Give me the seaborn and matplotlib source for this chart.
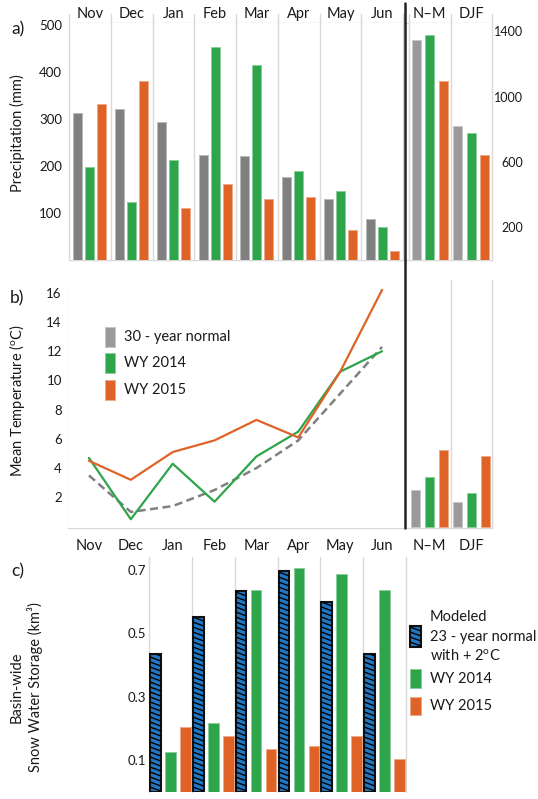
import numpy as np
import pandas as pd
import matplotlib
matplotlib.use("Agg")
import matplotlib.pyplot as plt
import matplotlib.colors as mcolors
from matplotlib.patches import Rectangle
from matplotlib.lines import Line2D
from matplotlib.transforms import IdentityTransform
import seaborn as sns

# ---------------- data ----------------
months = ["Nov", "Dec", "Jan", "Feb", "Mar", "Apr", "May", "Jun"]
seasons = ["N\u2013M", "DJF"]

precip_normal = [313, 321, 294, 223, 221, 177, 130, 87]
precip_2014 = [198, 123, 213, 453, 415, 190, 147, 70]
precip_2015 = [332, 381, 111, 162, 130, 134, 64, 19]
season_precip_normal = [1349, 824]
season_precip_2014 = [1379, 776]
season_precip_2015 = [1095, 641]

temp_normal = [3.5, 1.0, 1.4, 2.5, 4.0, 5.9, 9.1, 12.3]
temp_2014 = [4.7, 0.5, 4.3, 1.7, 4.8, 6.5, 10.6, 12.0]
temp_2015 = [4.5, 3.2, 5.1, 5.9, 7.3, 6.1, 10.6, 16.2]
season_temp_normal = [2.5, 1.7]
season_temp_2014 = [3.4, 2.3]
season_temp_2015 = [5.25, 4.8]

swe_months = ["Jan", "Feb", "Mar", "Apr", "May", "Jun"]
swe_modeled = [0.435, 0.553, 0.635, 0.697, 0.599, 0.435]
swe_2014 = [0.125, 0.216, 0.637, 0.705, 0.686, 0.637]
swe_2015 = [0.205, 0.176, 0.137, 0.145, 0.176, 0.105]

series_names = ["30 - year normal", "WY 2014", "WY 2015"]
swe_names = ["Modeled 23 - year normal with + 2\u00b0C", "WY 2014", "WY 2015"]

# ---------------- style ----------------
GRAY = "#808080"
GRAY_LIGHT = "#9a9a9a"
GREEN = "#2ea44b"
ORANGE = "#df6327"
BLUE = "#2078c4"
RULE = "#d9d9d9"
INK = "#1a1a1a"

sns.set_style("white")
plt.rcParams["font.family"] = ["Lato", "DejaVu Sans"]
plt.rcParams["mathtext.fontset"] = "custom"
plt.rcParams["mathtext.rm"] = "Lato"
plt.rcParams["mathtext.it"] = "Lato:italic"
plt.rcParams["text.color"] = INK

W, H = 538, 799
fig = plt.figure(figsize=(W / 100, H / 100), dpi=100)
fig.patch.set_facecolor("white")


def add_ax(x0, y0, x1, y1):
    return fig.add_axes([x0 / W, 1 - y1 / H, (x1 - x0) / W, (y1 - y0) / H])


def fig_line(x0, y0, x1, y1, color=RULE, lw=1.0, z=0):
    fig.add_artist(Line2D([x0 / W, x1 / W], [1 - y0 / H, 1 - y1 / H],
                          transform=fig.transFigure, color=color, lw=lw, zorder=z))


def tint(c, f=0.45):
    r, g, b = mcolors.to_rgb(c)
    return (r + (1 - r) * f, g + (1 - g) * f, b + (1 - b) * f)


def long_frame(cats, names, *values):
    rows = []
    for name, vals in zip(names, values):
        for c, v in zip(cats, vals):
            rows.append({"cat": c, "series": name, "value": v})
    return pd.DataFrame(rows)


def bars(ax, df, cats, names, colors, width, gap):
    sns.barplot(data=df, x="cat", y="value", hue="series", order=cats,
                hue_order=names, palette=colors, width=width, gap=gap,
                saturation=1, errorbar=None, legend=False, ax=ax)
    for cont, col in zip(ax.containers, colors):
        for p in cont:
            p.set_edgecolor(tint(col))
            p.set_linewidth(0.7)
    ax.set_xlabel("")
    ax.set_ylabel("")
    ax.set_xlim(-0.5, len(cats) - 0.5)


def clean(ax):
    for s in ax.spines.values():
        s.set_visible(False)
    ax.tick_params(length=0, labelsize=9.5, colors=INK)
    ax.grid(False)


def separators(ax, n, ymax=1.0):
    for k in range(n + 1):
        ax.axvline(k - 0.5, ymin=0, ymax=ymax, color=RULE, lw=1.0,
                   clip_on=False, zorder=0)


def stripes(patch, parent, spacing=5.0, drop=4.0, lw=1.0):
    """Shallow diagonal stripes drawn inside a rectangle patch (display units)."""
    bb = patch.get_window_extent()
    x0, x1, y0, y1 = bb.x0, bb.x1, bb.y0, bb.y1
    wdt = x1 - x0
    y = y0 - drop
    while y < y1:
        ya = y + drop
        t_lo = max(0.0, (ya - y1) / drop)
        t_hi = min(1.0, (ya - y0) / drop)
        if t_hi > t_lo:
            ln = Line2D([x0 + t_lo * wdt, x0 + t_hi * wdt],
                        [ya - drop * t_lo, ya - drop * t_hi],
                        transform=IdentityTransform(), color="black", lw=lw,
                        solid_capstyle="butt", zorder=patch.get_zorder() + 0.1)
            parent.add_artist(ln)
        y += spacing


# ---------------- panel a: precipitation ----------------
axA = add_ax(69, 23, 403, 260)
axAs = add_ax(409, 23, 492, 260)

bars(axA, long_frame(months, series_names, precip_normal, precip_2014, precip_2015),
     months, series_names, [GRAY, GREEN, ORANGE], 0.86, 0.25)
axA.set_ylim(0, 504)
axA.set_yticks([100, 200, 300, 400, 500])
clean(axA)
axA.xaxis.tick_top()
axA.tick_params(axis="x", pad=1.5, labelsize=10.5)
axA.tick_params(axis="y", pad=5)
separators(axA, len(months), ymax=1.04)

bars(axAs, long_frame(seasons, series_names, season_precip_normal,
                      season_precip_2014, season_precip_2015),
     seasons, series_names, [GRAY_LIGHT, GREEN, ORANGE], 0.99, 0.34)
axAs.set_ylim(0, 1452)
axAs.set_yticks([200, 600, 1000, 1400])
clean(axAs)
axAs.xaxis.tick_top()
axAs.yaxis.tick_right()
axAs.tick_params(axis="x", pad=1.5, labelsize=10.5)
axAs.tick_params(axis="y", pad=22.5, labelsize=9)
for t in axAs.get_yticklabels():
    t.set_ha("right")
separators(axAs, len(seasons), ymax=1.04)

fig_line(69, 23, 492, 23)
fig_line(69, 260, 492, 260)

# ---------------- panel b: temperature ----------------
axB = add_ax(68, 288, 403, 528)
axBs = add_ax(409, 288, 492, 528)

xpos = np.arange(len(months))
sns.lineplot(x=xpos, y=temp_normal, color=GRAY, lw=1.8,
             linestyle=(0, (3.2, 1.8)), ax=axB)
sns.lineplot(x=xpos, y=temp_2014, color=GREEN, lw=1.6, ax=axB)
sns.lineplot(x=xpos, y=temp_2015, color=ORANGE, lw=1.6, ax=axB)
axB.set_xlim(-0.5, len(months) - 0.5)
axB.set_ylim(-0.1, 16.33)
axB.set_xticks(xpos)
axB.set_xticklabels(months)
axB.set_yticks([2, 4, 6, 8, 10, 12, 14, 16])
clean(axB)
axB.tick_params(axis="x", pad=8, labelsize=10.5)
axB.tick_params(axis="y", pad=4.5)

bars(axBs, long_frame(seasons, series_names, season_temp_normal,
                      season_temp_2014, season_temp_2015),
     seasons, series_names, [GRAY_LIGHT, GREEN, ORANGE], 1.0, 0.35)
axBs.set_ylim(-0.1, 16.33)
axBs.set_yticks([])
clean(axBs)
axBs.tick_params(axis="x", pad=8, labelsize=10.5)
for k in (0.5, 1.5):
    axBs.axvline(k, ymin=0, ymax=1.033, color=RULE, lw=1.0, clip_on=False, zorder=0)

fig_line(68, 288, 68, 528)
fig_line(68, 528, 492, 528)

# legend for panel b
for i, (name, col) in enumerate(zip(series_names, [GRAY_LIGHT, GREEN, ORANGE])):
    yc = 337 + i * 26.3
    fig.add_artist(Rectangle((105 / W, 1 - (yc + 10) / H), 10 / W, 20 / H,
                             transform=fig.transFigure, facecolor=col,
                             edgecolor=tint(col), lw=0.7))
    fig.text(124 / W, 1 - yc / H, name, ha="left", va="center", fontsize=10.5)

# ---------------- panel c: snow water storage ----------------
axC = add_ax(149, 557, 406, 792)
bars(axC, long_frame(swe_months, swe_names, swe_modeled, swe_2014, swe_2015),
     swe_months, swe_names, [BLUE, GREEN, ORANGE], 1.05, 0.28)
axC.set_ylim(0, 0.741)
axC.set_yticks([0.1, 0.3, 0.5, 0.7])
axC.set_xticks([])
clean(axC)
axC.tick_params(axis="y", pad=2)
separators(axC, len(swe_months), ymax=1.0)
for p in axC.containers[0]:
    p.set_edgecolor("#111111")
    p.set_linewidth(1.5)
    p.set_zorder(3)
    stripes(p, axC)

# legend for panel c
leg_patches = [(626, 647, BLUE), (669, 688, GREEN), (697, 715, ORANGE)]
for k, (t, b, col) in enumerate(leg_patches):
    r = Rectangle((410 / W, 1 - b / H), 11 / W, (b - t) / H, transform=fig.transFigure,
                  facecolor=col, edgecolor="#111111" if k == 0 else tint(col),
                  lw=1.5 if k == 0 else 0.7, zorder=3)
    fig.add_artist(r)
    if k == 0:
        stripes(r, fig)
fig.text(430 / W, 1 - 617 / H, "Modeled", ha="left", va="center", fontsize=10.5)
fig.text(430 / W, 1 - 637 / H, "23 - year normal", ha="left", va="center", fontsize=10.5)
fig.text(430 / W, 1 - 656 / H, r"with + 2$^{\mathrm{o}}$C", ha="left", va="center", fontsize=10.5)
fig.text(430 / W, 1 - 679 / H, "WY 2014", ha="left", va="center", fontsize=10.5)
fig.text(430 / W, 1 - 706 / H, "WY 2015", ha="left", va="center", fontsize=10.5)

# ---------------- divider between monthly and seasonal panels ----------------
fig_line(405, 3, 405, 528, color="#222222", lw=1.8, z=5)

# ---------------- axis titles and panel letters ----------------
fig.text(17 / W, 1 - 133 / H, "Precipitation (mm)", rotation=90,
         ha="center", va="center", fontsize=10.5)
fig.text(17 / W, 1 - 401 / H, r"Mean Temperature ($^{\mathrm{o}}$C)", rotation=90,
         ha="center", va="center", fontsize=10.5)
fig.text(26 / W, 1 - 687 / H, "Basin-wide\nSnow Water Storage (km\u00b3)", rotation=90,
         ha="center", va="center", fontsize=10.5, multialignment="center",
         linespacing=1.25)
fig.text(17.5 / W, 1 - 29 / H, "a)", ha="center", va="center", fontsize=12.5)
fig.text(16.5 / W, 1 - 298 / H, "b)", ha="center", va="center", fontsize=12.5)
fig.text(17.5 / W, 1 - 571.5 / H, "c)", ha="center", va="center", fontsize=12.5)

fig.savefig("out.png", dpi=100, facecolor="white")
